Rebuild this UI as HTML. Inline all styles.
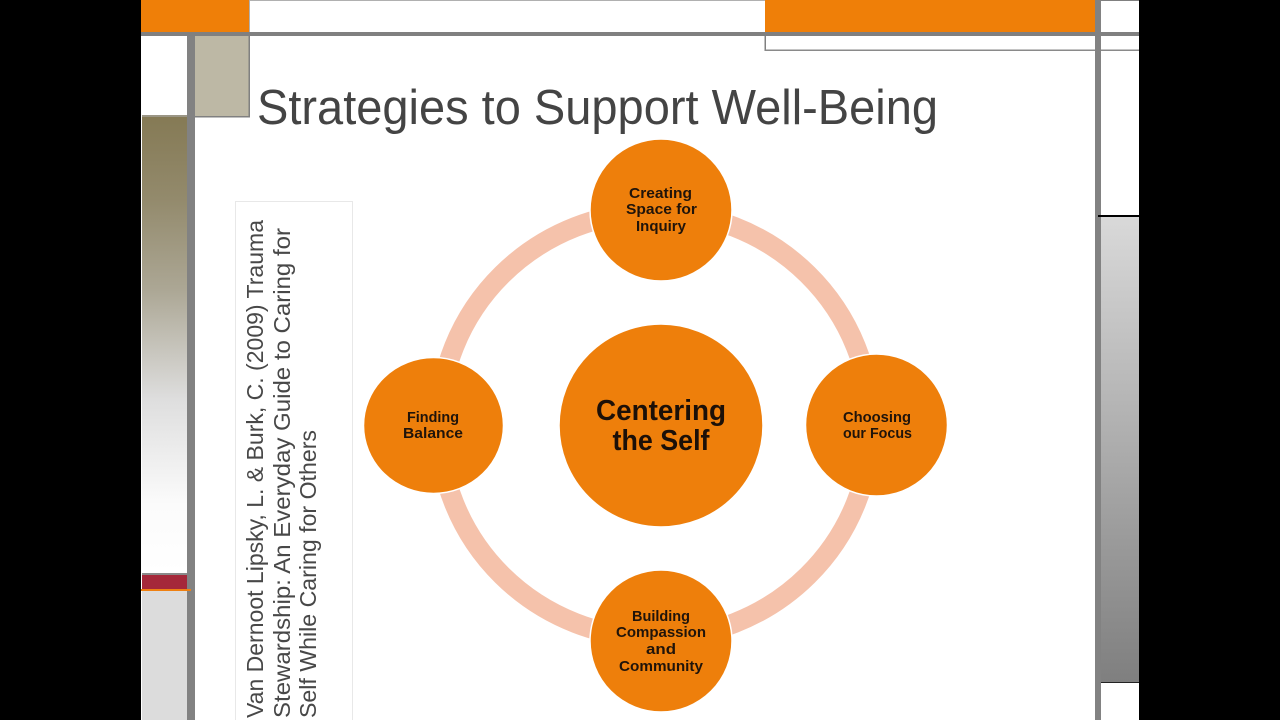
<!DOCTYPE html>
<html>
<head>
<meta charset="utf-8">
<style>
html,body{margin:0;padding:0;background:#000;width:1280px;height:720px;overflow:hidden}
svg{display:block}
text{font-family:"Liberation Sans",sans-serif}
.n{font-weight:bold;font-size:15px;fill:#20140a;text-anchor:middle}
.c{font-weight:bold;font-size:29px;fill:#1c1008;text-anchor:middle}
.v{font-size:23px;fill:#484848}
</style>
</head>
<body>
<svg width="1280" height="720" viewBox="0 0 1280 720" xmlns="http://www.w3.org/2000/svg">
<defs>
<linearGradient id="ol" x1="0" y1="0" x2="0" y2="1">
<stop offset="0" stop-color="#857a55"/>
<stop offset="0.18" stop-color="#938a6c"/>
<stop offset="0.38" stop-color="#aca795"/>
<stop offset="0.62" stop-color="#dedede"/>
<stop offset="0.85" stop-color="#fbfbfb"/>
<stop offset="1" stop-color="#ffffff"/>
</linearGradient>
<linearGradient id="gr" x1="0" y1="0" x2="0" y2="1">
<stop offset="0" stop-color="#d9d9d9"/>
<stop offset="1" stop-color="#7f7f7f"/>
</linearGradient>
</defs>
<rect width="1280" height="720" fill="#000"/>
<rect x="141" y="0" width="998" height="720" fill="#fff"/>

<!-- top band -->
<rect x="141" y="0" width="108" height="32" fill="#ef7f08"/>
<rect x="249" y="0" width="516" height="1" fill="#b0b0b0"/>
<rect x="765" y="0" width="330" height="32" fill="#ef7f08"/>
<rect x="141" y="32" width="998" height="4" fill="#808080"/>
<rect x="249" y="0" width="1" height="32" fill="#b0b0b0"/>
<rect x="764.500" y="36" width="1.500" height="15" fill="#808080"/>
<rect x="765" y="49.500" width="374" height="1.500" fill="#8a8a8a"/>
<rect x="1101" y="0" width="38" height="1" fill="#808080"/>

<!-- left side -->
<rect x="187" y="36" width="8" height="684" fill="#828282"/>
<rect x="195" y="36" width="54" height="80" fill="#bdb8a5"/>
<rect x="248.500" y="36" width="1.500" height="81" fill="#808080"/>
<rect x="195" y="116" width="55" height="1.500" fill="#808080"/>
<rect x="142" y="115" width="45" height="2" fill="#9b9686"/>
<rect x="142" y="117" width="45" height="456" fill="url(#ol)"/>
<rect x="142" y="573" width="45" height="2" fill="#8a8a8a"/>
<rect x="142" y="575" width="45" height="14" fill="#a5283a"/>
<rect x="141" y="589" width="50" height="2" fill="#ee8012"/>
<rect x="142" y="591" width="45" height="129" fill="#dcdcdc"/>

<!-- right side -->
<rect x="1095" y="0" width="6" height="720" fill="#828282"/>
<rect x="1098" y="215" width="41" height="2" fill="#000"/>
<rect x="1101" y="217" width="38" height="465" fill="url(#gr)"/>
<rect x="1101" y="682" width="38" height="1" fill="#222"/>

<!-- title -->
<text x="257" y="124" font-size="49" fill="#444" textLength="681" lengthAdjust="spacingAndGlyphs">Strategies to Support Well-Being</text>

<!-- reference box -->
<rect x="235.500" y="201.500" width="117" height="530" fill="#fff" stroke="#e8e8e8"/>
<text class="v" transform="translate(263,718) rotate(-90)" textLength="498" lengthAdjust="spacingAndGlyphs">Van Dernoot Lipsky, L. &amp; Burk, C. (2009) Trauma</text>
<text class="v" transform="translate(290,718) rotate(-90)" textLength="490" lengthAdjust="spacingAndGlyphs">Stewardship: An Everyday Guide to Caring for</text>
<text class="v" transform="translate(316,718) rotate(-90)" textLength="288" lengthAdjust="spacingAndGlyphs">Self While Caring for Others</text>

<!-- ring -->
<ellipse cx="655" cy="425" rx="216" ry="213" fill="none" stroke="#f5c2ab" stroke-width="20"/>

<!-- nodes -->
<g fill="#ee7f0b" stroke="#fff" stroke-width="1.500">
<ellipse cx="661" cy="210" rx="71" ry="71"/>
<ellipse cx="433.500" cy="425.500" rx="70" ry="68"/>
<ellipse cx="876.500" cy="425" rx="71" ry="71"/>
<ellipse cx="661" cy="641" rx="71" ry="71"/>
<ellipse cx="661" cy="425.500" rx="102" ry="101.500"/>
</g>

<text class="c" x="661" y="420" textLength="130" lengthAdjust="spacingAndGlyphs">Centering</text>
<text class="c" x="661" y="450" textLength="97" lengthAdjust="spacingAndGlyphs">the Self</text>

<text class="n" x="660.500" y="198" textLength="63" lengthAdjust="spacingAndGlyphs">Creating</text>
<text class="n" x="661.500" y="214" textLength="71" lengthAdjust="spacingAndGlyphs">Space for</text>
<text class="n" x="661" y="231" textLength="50" lengthAdjust="spacingAndGlyphs">Inquiry</text>

<text class="n" x="433" y="422" textLength="52" lengthAdjust="spacingAndGlyphs">Finding</text>
<text class="n" x="433" y="438" textLength="60" lengthAdjust="spacingAndGlyphs">Balance</text>

<text class="n" x="877" y="422" textLength="68" lengthAdjust="spacingAndGlyphs">Choosing</text>
<text class="n" x="877.500" y="438" textLength="69" lengthAdjust="spacingAndGlyphs">our Focus</text>

<text class="n" x="661" y="621" textLength="58" lengthAdjust="spacingAndGlyphs">Building</text>
<text class="n" x="661" y="637" textLength="90" lengthAdjust="spacingAndGlyphs">Compassion</text>
<text class="n" x="661" y="654" textLength="30" lengthAdjust="spacingAndGlyphs">and</text>
<text class="n" x="661" y="671" textLength="84" lengthAdjust="spacingAndGlyphs">Community</text>
</svg>
</body>
</html>
